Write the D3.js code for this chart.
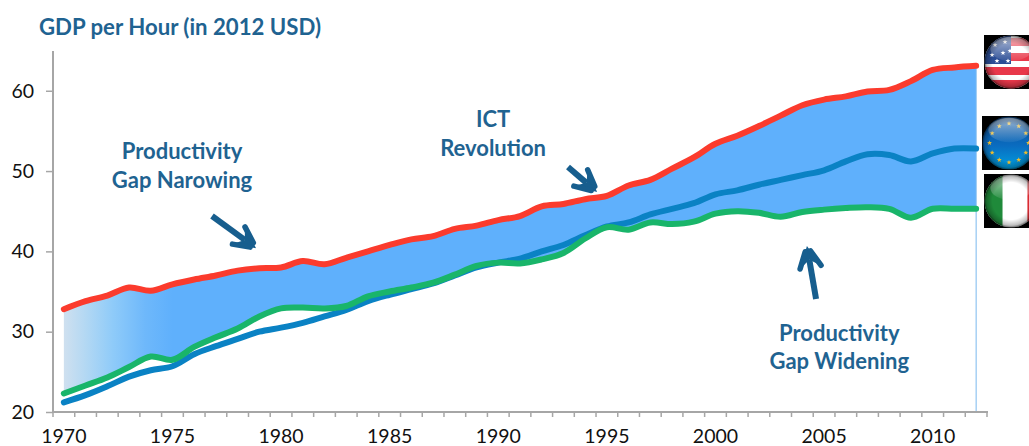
<!DOCTYPE html>
<html><head><meta charset="utf-8">
<script src="https://cdn.jsdelivr.net/npm/d3@7"></script>
<style>
html,body{margin:0;padding:0;background:#fff;overflow:hidden}
svg{display:block}
text{font-family:Lato,"Open Sans",sans-serif}
</style></head><body>
<svg id="c" width="1029" height="446"></svg>
<script>
const years = d3.range(1970, 2013);
const tickYears = [1970,1975,1980,1985,1990,1995,2000,2005,2010];
const yTicks = [20,30,40,50,60];
const usa = [32.8,33.8,34.5,35.5,35.1,35.9,36.5,37.0,37.6,37.9,38.0,38.8,38.4,39.2,40.0,40.8,41.5,41.9,42.8,43.2,43.9,44.4,45.6,45.9,46.5,46.9,48.2,48.9,50.3,51.7,53.4,54.4,55.6,56.9,58.2,58.9,59.3,59.9,60.1,61.2,62.6,62.9,63.1];
const eu = [21.2,22.1,23.2,24.4,25.2,25.7,27.2,28.2,29.1,30.0,30.5,31.1,31.9,32.7,33.8,34.6,35.3,36.0,37.0,38.0,38.6,39.1,40.0,40.8,42.0,43.1,43.6,44.6,45.3,46.0,47.1,47.6,48.3,48.9,49.5,50.1,51.2,52.1,52.0,51.2,52.2,52.8,52.8];
const italy = [22.3,23.3,24.3,25.6,26.9,26.5,28.1,29.3,30.4,31.9,32.9,33.0,32.9,33.2,34.4,35.0,35.5,36.1,37.1,38.2,38.6,38.5,39.0,39.8,41.6,43.0,42.7,43.6,43.4,43.7,44.7,45.0,44.8,44.3,44.9,45.2,45.4,45.5,45.3,44.2,45.3,45.3,45.3];
const title = "GDP per Hour (in 2012 USD)";
const notes = [
  {lines:["Productivity","Gap Narowing"], year:1975.44, value:[51.5,47.9]},
  {lines:["ICT","Revolution"], year:1989.76, value:[55.5,51.9]},
  {lines:["Productivity","Gap Widening"], year:2005.7, value:[28.9,25.3]}
];
const arrows = [
  {from:[1976.82,44.4], to:[1978.85,40.4]},
  {from:[1993.21,50.5], to:[1994.55,47.4]},
  {from:[2004.63,34.07], to:[2004.21,40.67]}
];

const svg = d3.select("#c");
const x = d3.scaleBand().domain(years).range([53,987]);
const y = d3.scaleLinear().domain([20,65]).range([412,50.6]);
const cx = d => x(d) + x.bandwidth()/2;
const cyear = v => {const f=Math.floor(v); return cx(f)+(v-f)*x.step();};

const defs = svg.append("defs");
const grad = defs.append("linearGradient").attr("id","bandGrad").attr("gradientUnits","userSpaceOnUse")
  .attr("x1",cx(1970)).attr("x2",cx(1975)).attr("y1",0).attr("y2",0);
[[0,"#cfe0ef"],[0.2,"#b3d8f3"],[0.45,"#8fcbf9"],[0.75,"#6eb8fb"],[1,"#5fb0fc"]].forEach(s=>grad.append("stop").attr("offset",s[0]).attr("stop-color",s[1]));

const curve = d3.curveCatmullRom.alpha(0.5);
const idx = d3.range(years.length);
svg.append("path").attr("fill","url(#bandGrad)")
  .attr("d", d3.area().x(i=>cx(years[i])).y0(i=>y(italy[i])).y1(i=>y(usa[i])).curve(curve)(idx));

// right drop line
svg.append("line").attr("x1",cx(2012)).attr("x2",cx(2012)).attr("y1",y(usa[42])).attr("y2",y(20))
  .attr("stroke","#7ab8ee").attr("stroke-width",1);

// axes
const axC="#a6a6a6";
const gx = svg.append("g").attr("transform","translate(0,412)").call(d3.axisBottom(x).tickValues(tickYears).tickSize(0).tickPadding(17));
gx.select(".domain").remove();
gx.selectAll("text").attr("font-size",19.5).attr("fill","#111");
svg.append("g").selectAll("line").data(d3.range(0,years.length+1)).join("line")
  .attr("x1",i=>x.range()[0]+i*x.step()).attr("x2",i=>x.range()[0]+i*x.step())
  .attr("y1",412).attr("y2",417).attr("stroke",axC).attr("stroke-width",1.5);
const gy = svg.append("g").attr("transform","translate(53,0)").call(d3.axisLeft(y).tickValues(yTicks).tickSize(7).tickPadding(12));
gy.select(".domain").remove();
gy.selectAll("line").attr("stroke",axC).attr("stroke-width",1.5);
gy.selectAll("text").attr("font-size",19.5).attr("fill","#111");
svg.append("line").attr("x1",53).attr("x2",53).attr("y1",51).attr("y2",413).attr("stroke",axC).attr("stroke-width",2);
svg.append("line").attr("x1",52).attr("x2",988).attr("y1",412).attr("y2",412).attr("stroke",axC).attr("stroke-width",2);

// lines
const line = d3.line().x(i=>cx(years[i])).curve(curve);
[[usa,"#fb3b2d"],[eu,"#0a82c4"],[italy,"#19b56a"]].forEach(([s,c])=>{
  svg.append("path").attr("fill","none").attr("stroke",c).attr("stroke-width",6).attr("stroke-linecap","round").attr("stroke-linejoin","round")
    .attr("d",line.y(i=>y(s[i]))(idx));
});

// title & annotations
const ink="#1f6391";
svg.append("text").attr("x",39).attr("y",35).attr("font-size",22.2).attr("font-weight",700).attr("fill",ink).text(title);
notes.forEach(n=>n.lines.forEach((t,k)=>{
  svg.append("text").attr("x",cyear(n.year)).attr("y",y(n.value[k])).attr("text-anchor","middle")
    .attr("font-size",22).attr("font-weight",700).attr("fill",ink).text(t);
}));
arrows.forEach(a=>{
  const x0=cyear(a.from[0]),y0=y(a.from[1]),x1=cyear(a.to[0]),y1=y(a.to[1]);
  const ang=Math.atan2(y1-y0,x1-x0), L=24, sp=0.46;
  const g=svg.append("g").attr("stroke","#175e8e");
  const nx=x1-Math.cos(ang)*14, ny=y1-Math.sin(ang)*14;
  g.append("line").attr("x1",x0).attr("y1",y0).attr("x2",nx).attr("y2",ny).attr("stroke-width",6);
  const b1=[x1-L*Math.cos(ang-sp),y1-L*Math.sin(ang-sp)], b2=[x1-L*Math.cos(ang+sp),y1-L*Math.sin(ang+sp)];
  g.append("path").attr("d",d3.line()([[x1,y1],b1,[nx,ny],b2])+"Z").attr("fill","#175e8e").attr("stroke","none");
  [b1,b2].forEach(b=>{
    const ix=x1-Math.cos(Math.atan2(y1-b[1],x1-b[0]))*6, iy=y1-Math.sin(Math.atan2(y1-b[1],x1-b[0]))*6;
    g.append("line").attr("x1",b[0]).attr("y1",b[1]).attr("x2",ix).attr("y2",iy).attr("stroke-width",5.5).attr("stroke-linecap","round");
  });
});

// flags (glossy round buttons on black squares)
function glossy(id){
  const g=defs.append("radialGradient").attr("id",id).attr("cx",0.5).attr("cy",0.5).attr("r",0.5);
  [[0,"#000",0],[0.7,"#000",0],[0.92,"#000",0.25],[1,"#000",0.6]].forEach(s=>g.append("stop").attr("offset",s[0]).attr("stop-color",s[1]).attr("stop-opacity",s[2]));
  const h=defs.append("linearGradient").attr("id",id+"h").attr("x1",0).attr("x2",0).attr("y1",0).attr("y2",1);
  [[0,"#fff",0.6],[1,"#fff",0.05]].forEach(s=>h.append("stop").attr("offset",s[0]).attr("stop-color",s[1]).attr("stop-opacity",s[2]));
}
glossy("gl");
function flag(name,bx,by,draw){
  const w=1029-bx, size=54, r=26.5, ccx=bx+27, ccy=by+27;
  const g=svg.append("g");
  g.append("rect").attr("x",bx).attr("y",by).attr("width",w).attr("height",size).attr("fill","#000");
  const cid="clip"+name;
  defs.append("clipPath").attr("id",cid).append("circle").attr("cx",ccx).attr("cy",ccy).attr("r",r);
  const f=g.append("g").attr("clip-path",`url(#${cid})`);
  draw(f,ccx,ccy,r);
  g.append("circle").attr("cx",ccx).attr("cy",ccy).attr("r",r).attr("fill","url(#gl)");
  f.append("ellipse").attr("cx",ccx).attr("cy",ccy-13).attr("rx",r*0.78).attr("ry",r*0.46).attr("fill","url(#glh)");
}
function star(g,px,py,s,c){
  const pts=d3.range(10).map(i=>{const a=-Math.PI/2+i*Math.PI/5,q=i%2?s*0.42:s;return [px+q*Math.cos(a),py+q*Math.sin(a)];});
  g.append("path").attr("d",d3.line()(pts)+"Z").attr("fill",c);
}
flag("us",984,35,(f,ccx,ccy,r)=>{
  f.append("rect").attr("x",ccx-r).attr("y",ccy-r).attr("width",2*r).attr("height",2*r).attr("fill","#fff");
  [-24,-9,5,18].forEach((dy,i)=>f.append("rect").attr("x",i<2?ccx:ccx-r).attr("y",ccy+dy).attr("width",2*r).attr("height",i==3?10:8).attr("fill","#e8384a"));
  f.append("rect").attr("x",ccx-r).attr("y",ccy-r).attr("width",r).attr("height",r+2).attr("fill","#2b4d95");
  [[-16,-17],[-6,-20],[-19,-7],[-8,-9],[-1,-11],[-14,-1],[-3,-1]].forEach(p=>star(f,ccx+p[0],ccy+p[1],2.6,"#fff"));
});
flag("eu",982,116,(f,ccx,ccy,r)=>{
  const g=defs.append("linearGradient").attr("id","euBg").attr("x1",0).attr("x2",0).attr("y1",0).attr("y2",1);
  [[0,"#0a4d96"],[0.55,"#0a6cc0"],[1,"#00a0e0"]].forEach(s=>g.append("stop").attr("offset",s[0]).attr("stop-color",s[1]));
  f.append("rect").attr("x",ccx-r).attr("y",ccy-r).attr("width",2*r).attr("height",2*r).attr("fill","url(#euBg)");
  d3.range(12).forEach(i=>{const a=i*Math.PI/6;star(f,ccx+19.5*Math.cos(a),ccy+19.5*Math.sin(a),2.6,"#f2c230");});
});
flag("it",984,174,(f,ccx,ccy,r)=>{
  f.append("rect").attr("x",ccx-r).attr("y",ccy-r).attr("width",2*r).attr("height",2*r).attr("fill","#fff");
  f.append("rect").attr("x",ccx-r).attr("y",ccy-r).attr("width",r*0.68).attr("height",2*r).attr("fill","#1f8a3a");
  f.append("rect").attr("x",ccx+r*0.62).attr("y",ccy-r).attr("width",r).attr("height",2*r).attr("fill","#d92b32");
});
</script></body></html>
